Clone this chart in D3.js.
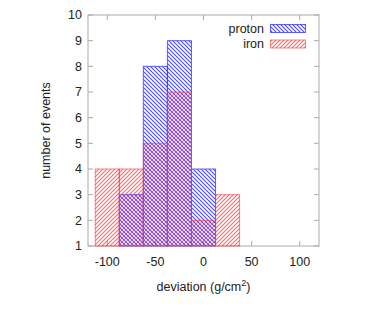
<!DOCTYPE html>
<html>
<head>
<meta charset="utf-8">
<script src="https://cdn.jsdelivr.net/npm/d3@7"></script>
<style>
  body { margin: 0; background: #fff; }
  text { font-family: "Liberation Sans", Arial, sans-serif; fill: #222; }
</style>
</head>
<body>
<svg id="chart" width="374" height="312"></svg>
<script>
// bin centres (g/cm^2), bin width 25
const binCenters = [-100, -75, -50, -25, 0, 25];
const protonCounts = [null, 3, 8, 9, 4, null];
const ironCounts = [4, 4, 5, 7, 2, 3];
const xTicks = [-100, -50, 0, 50, 100];
const yTicks = [1, 2, 3, 4, 5, 6, 7, 8, 9, 10];
const BIN_WIDTH = 25;

const svg = d3.select("#chart");
const margin = { left: 88, right: 55, top: 15, bottom: 66 };
const W = 374, H = 312;

const x = d3.scaleLinear().domain([-120, 120]).range([margin.left, W - margin.right]);
const y = d3.scaleLinear().domain([1, 10]).range([H - margin.bottom, margin.top]);

// hatch patterns
const defs = svg.append("defs");
function hatch(id, color, dir) {
  const p = defs.append("pattern")
    .attr("id", id)
    .attr("patternUnits", "userSpaceOnUse")
    .attr("width", 4).attr("height", 4);
  const d = dir === "/"
    ? "M-1,1 l2,-2 M0,4 l4,-4 M3,5 l2,-2"
    : "M-1,3 l2,2 M0,0 l4,4 M3,-1 l2,2";
  p.append("path").attr("d", d)
    .attr("stroke", color).attr("stroke-width", 1.1).attr("fill", "none");
}
hatch("hProton", "rgba(40,40,255,0.85)", "\\");
hatch("hIron", "rgba(255,40,40,0.7)", "/");

// frame + ticks (mirror ticks on all sides, pointing inward)
const gAxis = svg.append("g");
gAxis.append("rect")
  .attr("x", x(-120)).attr("y", y(10))
  .attr("width", x(120) - x(-120)).attr("height", y(1) - y(10))
  .attr("fill", "none").attr("stroke", "#aaa").attr("stroke-width", 1);

const TL = 5;
yTicks.forEach(v => {
  gAxis.append("line").attr("x1", x(-120)).attr("x2", x(-120) + TL)
    .attr("y1", y(v)).attr("y2", y(v)).attr("stroke", "#aaa");
  gAxis.append("line").attr("x1", x(120)).attr("x2", x(120) - TL)
    .attr("y1", y(v)).attr("y2", y(v)).attr("stroke", "#aaa");
  gAxis.append("text").attr("x", x(-120) - 6).attr("y", y(v))
    .attr("dy", "0.35em").attr("text-anchor", "end")
    .style("font-size", "12.5px").text(v);
});
xTicks.forEach(v => {
  gAxis.append("line").attr("x1", x(v)).attr("x2", x(v))
    .attr("y1", y(1)).attr("y2", y(1) - TL).attr("stroke", "#aaa");
  gAxis.append("line").attr("x1", x(v)).attr("x2", x(v))
    .attr("y1", y(10)).attr("y2", y(10) + TL).attr("stroke", "#aaa");
  gAxis.append("text").attr("x", x(v)).attr("y", y(1) + 20)
    .attr("text-anchor", "middle")
    .style("font-size", "12.5px").text(v);
});

// bars
function bars(counts, fillId, stroke) {
  svg.append("g").selectAll("rect")
    .data(binCenters.map((c, i) => ({ c, v: counts[i] })).filter(d => d.v != null))
    .join("rect")
    .attr("x", d => x(d.c - BIN_WIDTH / 2))
    .attr("width", d => x(d.c + BIN_WIDTH / 2) - x(d.c - BIN_WIDTH / 2))
    .attr("y", d => y(d.v))
    .attr("height", d => y(1) - y(d.v))
    .attr("fill", `url(#${fillId})`)
    .attr("stroke", stroke).attr("stroke-width", 1);
}
bars(protonCounts, "hProton", "rgba(60,60,255,0.8)");
bars(ironCounts, "hIron", "rgba(255,60,60,0.65)");

// legend
const legend = [
  { name: "proton", fill: "hProton", stroke: "rgba(60,60,255,0.8)" },
  { name: "iron", fill: "hIron", stroke: "rgba(255,60,60,0.65)" }
];
legend.forEach((l, i) => {
  const cy = 28.5 + i * 15.5;
  svg.append("text").attr("x", 264).attr("y", cy).attr("dy", "0.35em")
    .attr("text-anchor", "end").style("font-size", "12.5px").text(l.name);
  svg.append("rect").attr("x", 270.5).attr("y", cy - 4)
    .attr("width", 35).attr("height", 8)
    .attr("fill", `url(#${l.fill})`).attr("stroke", l.stroke);
});

// axis titles
svg.append("text")
  .attr("transform", `translate(50,${(y(1) + y(10)) / 2}) rotate(-90)`)
  .attr("text-anchor", "middle").style("font-size", "12.5px")
  .text("number of events");

const xt = svg.append("text")
  .attr("x", x(0)).attr("y", 291)
  .attr("text-anchor", "middle").style("font-size", "12.5px");
xt.append("tspan").text("deviation (g/cm");
xt.append("tspan").attr("dy", "-5").style("font-size", "9px").text("2");
xt.append("tspan").attr("dy", "5").text(")");
</script>
</body>
</html>
